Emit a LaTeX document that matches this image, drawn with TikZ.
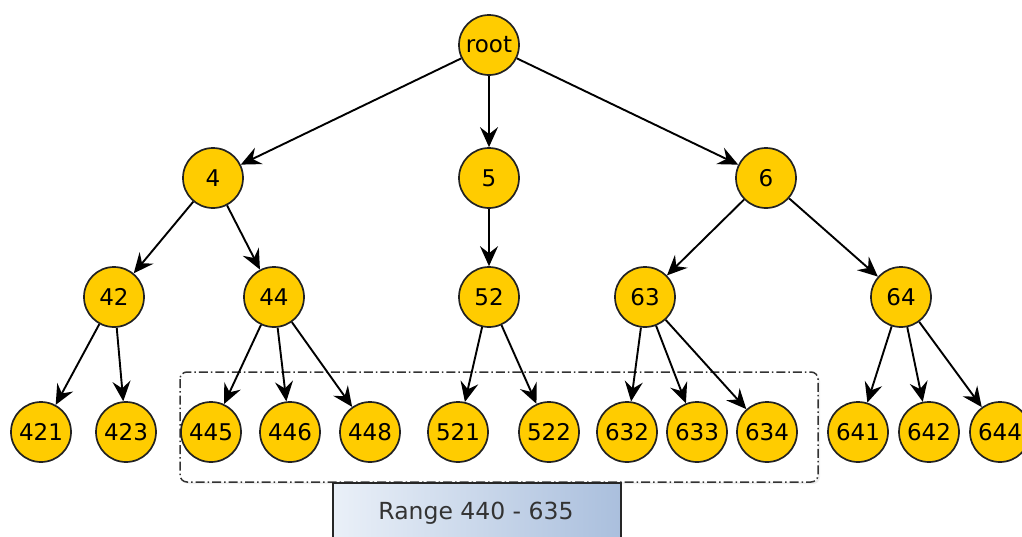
\documentclass[tikz,border=0pt]{standalone}
\usepackage{fontspec}
\setmainfont{DejaVu Sans}
\usetikzlibrary{arrows.meta,shadows}
\definecolor{nodefill}{HTML}{FFCC00}
\definecolor{nodeline}{HTML}{222222}
\definecolor{rangeL}{HTML}{EAF0F8}
\definecolor{rangeR}{HTML}{AABFDD}
\tikzset{
  tnode/.style={circle,draw=nodeline,line width=1.7pt,fill=nodefill,minimum size=60pt,inner sep=0pt,font=\fontsize{23}{23}\selectfont},
  conn/.style={line width=1.9pt,-{Stealth[length=20pt,width=18pt,inset=7pt]}},
  rangebox/.style={draw=black!80,line width=1.5pt,dash pattern=on 9pt off 3pt on 1.5pt off 3pt,rounded corners=7pt},
  rangelabel/.style={draw=black!85,line width=1.5pt,left color=rangeL,right color=rangeR,inner sep=0pt}
}
\begin{document}
\begin{tikzpicture}[x=1pt,y=-1pt]
\useasboundingbox (0,0) rectangle (1022,536);
% dash-dot range frame
\draw[rangebox,fill=white,drop shadow={opacity=0.12,shadow xshift=2pt,shadow yshift=-2pt}] (180,372) rectangle (818,482);
% nodes
\node[tnode] (r) at (489,45) {root};
\node[tnode] (n4) at (213,178) {4};
\node[tnode] (n5) at (489,178) {5};
\node[tnode] (n6) at (766,178) {6};
\node[tnode] (n42) at (114,297) {42};
\node[tnode] (n44) at (274,297) {44};
\node[tnode] (n52) at (489,297) {52};
\node[tnode] (n63) at (645,297) {63};
\node[tnode] (n64) at (901,297) {64};
\node[tnode] (n421) at (41,432) {421};
\node[tnode] (n423) at (126,432) {423};
\node[tnode] (n445) at (211,432) {445};
\node[tnode] (n446) at (290,432) {446};
\node[tnode] (n448) at (370,432) {448};
\node[tnode] (n521) at (458,432) {521};
\node[tnode] (n522) at (549,432) {522};
\node[tnode] (n632) at (627,432) {632};
\node[tnode] (n633) at (697,432) {633};
\node[tnode] (n634) at (767,432) {634};
\node[tnode] (n641) at (858,432) {641};
\node[tnode] (n642) at (929,432) {642};
\node[tnode] (n644) at (1000,432) {644};
% connectors
\draw[conn] (r) -- (n4);
\draw[conn] (r) -- (n5);
\draw[conn] (r) -- (n6);
\draw[conn] (n4) -- (n42);
\draw[conn] (n4) -- (n44);
\draw[conn] (n5) -- (n52);
\draw[conn] (n6) -- (n63);
\draw[conn] (n6) -- (n64);
\draw[conn] (n42) -- (n421);
\draw[conn] (n42) -- (n423);
\draw[conn] (n44) -- (n445);
\draw[conn] (n44) -- (n446);
\draw[conn] (n44) -- (n448);
\draw[conn] (n52) -- (n521);
\draw[conn] (n52) -- (n522);
\draw[conn] (n63) -- (n632);
\draw[conn] (n63) -- (n633);
\draw[conn] (n63) -- (n634);
\draw[conn] (n64) -- (n641);
\draw[conn] (n64) -- (n642);
\draw[conn] (n64) -- (n644);
% range label
\node[rangelabel,minimum width=288pt,minimum height=62pt,anchor=north west] (range) at (332,482) {};
\node[font=\fontsize{23.5}{23.5}\selectfont,text=black!80] (rangetext) at (476,513) {Range 440 - 635};
\end{tikzpicture}
\end{document}
